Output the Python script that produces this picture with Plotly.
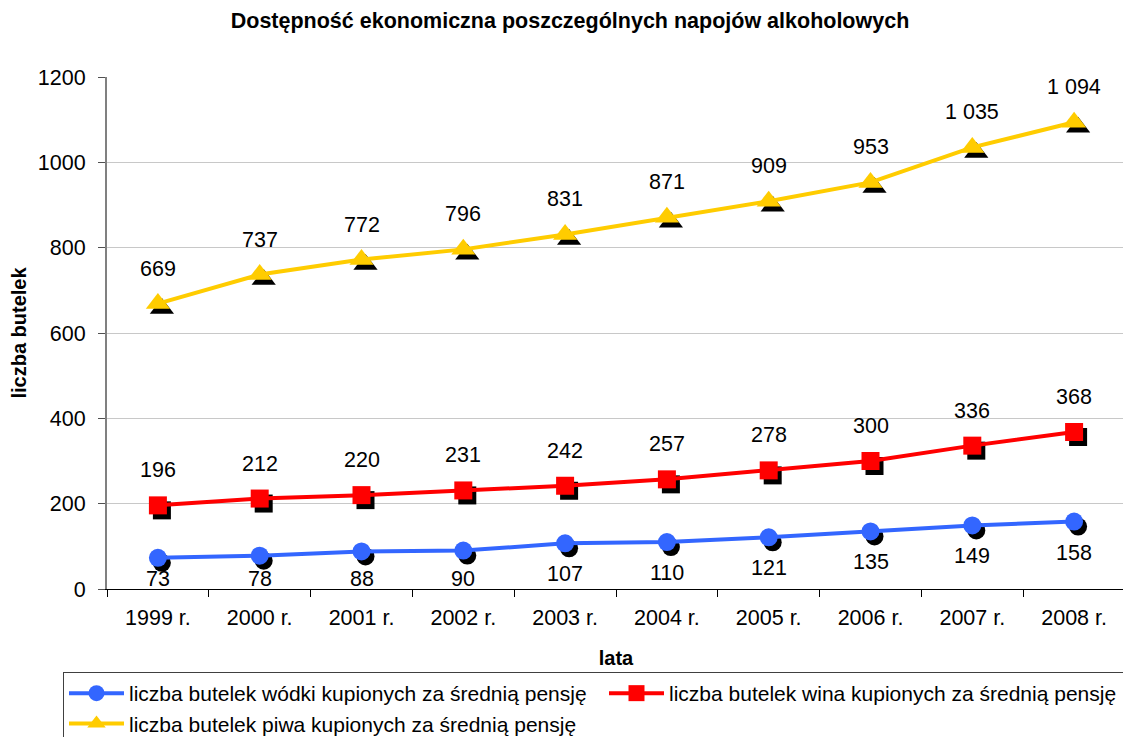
import plotly.graph_objects as go

years = ["1999 r.", "2000 r.", "2001 r.", "2002 r.", "2003 r.", "2004 r.", "2005 r.", "2006 r.", "2007 r.", "2008 r."]
vodka = [73, 78, 88, 90, 107, 110, 121, 135, 149, 158]
wine = [196, 212, 220, 231, 242, 257, 278, 300, 336, 368]
beer = [669, 737, 772, 796, 831, 871, 909, 953, 1035, 1094]

names = [
    "liczba butelek wódki kupionych za średnią pensję",
    "liczba butelek wina kupionych za średnią pensję",
    "liczba butelek piwa kupionych za średnią pensję",
]
colors = ["#3366FF", "#FF0000", "#FFCC00"]
symbols = ["circle", "square", "triangle-up"]
msizes = [18, 18, 21]
series = [vodka, wine, beer]

FONT = "Liberation Sans, Arial, sans-serif"
FW, FH = 1123, 729          # page body has an 8px margin
L, T, R, B = 99, 69, 0, 143
W, H = FW - L - R, FH - T - B
PW, PH = 1018, 512
dx, dy = 4, 5

fig = go.Figure()

# invisible anchor trace for the visible axes
fig.add_trace(go.Scatter(x=years, y=vodka, mode="markers", marker=dict(opacity=0),
                         showlegend=False, hoverinfo="skip", xaxis="x", yaxis="y"))

# shadows
for s, sym, ms in zip(series, symbols, msizes):
    fig.add_trace(go.Scatter(x=years, y=s, mode="markers", xaxis="x2", yaxis="y2",
                             marker=dict(symbol=sym, size=ms, color="black"),
                             showlegend=False, hoverinfo="skip", cliponaxis=False))
# main series
for s, n, c, sym, ms in zip(series, names, colors, symbols, msizes):
    fig.add_trace(go.Scatter(x=years, y=s, name=n, mode="lines+markers", xaxis="x3", yaxis="y3",
                             line=dict(color=c, width=4),
                             marker=dict(symbol=sym, size=ms, color=c),
                             cliponaxis=False))

ppu = PH / 1200.0
anns = []
for i, yv in enumerate(vodka):
    shift = -min(31, yv * ppu - 10)
    anns.append(dict(x=years[i], y=yv, xref="x3", yref="y3", text=str(yv), showarrow=False,
                     yshift=shift, font=dict(size=21.5, color="black", family=FONT)))
for s in (wine, beer):
    for i, yv in enumerate(s):
        txt = f"{yv:,}".replace(",", " ")
        anns.append(dict(x=years[i], y=yv, xref="x3", yref="y3", text=txt, showarrow=False,
                         yshift=35, font=dict(size=21.5, color="black", family=FONT)))

xd = [0, PW / W]
xs = [dx / W, (PW + dx) / W]
yd = [dy / H, 1]
ys = [0, PH / H]

hidden = dict(visible=False, showgrid=False, zeroline=False)

fig.update_layout(
    width=FW, height=FH,
    margin=dict(l=L, r=R, t=T, b=B, autoexpand=False),
    paper_bgcolor="white", plot_bgcolor="rgba(0,0,0,0)",
    font=dict(family=FONT, size=21.5, color="black"),
    title=dict(text="<b>Dostępność ekonomiczna poszczególnych napojów alkoholowych</b>",
               x=562 / FW, xanchor="center", y=1 - 12 / FH, yanchor="middle",
               font=dict(size=21.5, family=FONT, color="black")),
    xaxis=dict(domain=xd, type="category", categoryorder="array", categoryarray=years,
               range=[-0.5, 9.5], showgrid=False, zeroline=False,
               showline=True, linecolor="black", linewidth=1,
               ticks="outside", tickson="boundaries", ticklen=7, tickcolor="black",
               tickfont=dict(size=21.5), ticklabelstandoff=9, anchor="y",
               title=dict(text="<b>lata</b>", font=dict(size=20), standoff=22)),
    yaxis=dict(domain=yd, range=[0, 1200], dtick=200, showgrid=True, gridcolor="#C8C8C8",
               gridwidth=1, zeroline=False, showline=True, linecolor="#808080", linewidth=2,
               ticks="outside", ticklen=7, tickcolor="#505050", tickfont=dict(size=21.5),
               ticklabelstandoff=8, anchor="x",
               title=dict(text="<b>liczba butelek</b>", font=dict(size=20), standoff=12)),
    xaxis2=dict(domain=xs, type="category", categoryorder="array", categoryarray=years,
                range=[-0.5, 9.5], anchor="y2", **hidden),
    yaxis2=dict(domain=ys, range=[0, 1200], anchor="x2", **hidden),
    xaxis3=dict(domain=xd, type="category", categoryorder="array", categoryarray=years,
                range=[-0.5, 9.5], anchor="y3", **hidden),
    yaxis3=dict(domain=yd, range=[0, 1200], anchor="x3", **hidden),
    annotations=anns,
    showlegend=True,
    legend=dict(orientation="h", x=(55 - L) / W, xanchor="left", y=(T + H - 664) / H,
                yanchor="top", bgcolor="white", bordercolor="#404040", borderwidth=1,
                font=dict(size=21, family=FONT), entrywidth=470, entrywidthmode="pixels",
                itemwidth=55, traceorder="normal"),
)

fig.write_html("out.html")
